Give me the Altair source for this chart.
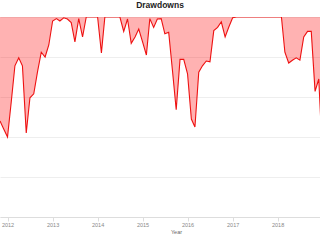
import altair as alt
import pandas as pd

# Monthly drawdown (%), first month = Nov 2011
first_month = "2011-11-01"
drawdown_pct = [
    -13.0, -14.0,                                              # 2011 Nov-Dec
    -15.0, -10.5, -6.1, -5.1, -6.1, -14.5, -10.1, -9.6, -6.8, -4.4, -5.0, -3.5,   # 2012
    -0.5, -0.2, -0.5, -0.1, -0.25, -0.7, -3.1, -0.2, -2.5, 0.0, 0.0, 0.0,         # 2013
    0.0, -4.5, 0.0, 0.0, 0.0, 0.0, 0.0, -1.8, -0.25, -3.3, -2.5, -1.5,            # 2014
    -3.1, -4.75, -0.2, -1.3, -0.25, -0.2, -2.1, -1.9, -6.75, -11.6, -5.3, -5.3,   # 2015
    -7.1, -12.75, -13.75, -6.9, -6.1, -5.5, -5.6, -1.7, -1.3, -0.6, -2.5, -1.25,  # 2016
    -0.1, 0.0, 0.0, 0.0, 0.0, 0.0, 0.0, 0.0, 0.0, 0.0, 0.0, 0.0,                  # 2017
    0.0, 0.0, -4.4, -5.75, -5.4, -5.1, -5.4, -2.5, -1.8, -1.8, -9.3, -7.75,       # 2018
    -17.75, -13.4,                                             # 2019
]
grid_values = [-25, -20, -15, -10, -5, 0]

dates = pd.date_range(first_month, periods=len(drawdown_pct), freq="MS")
df = pd.DataFrame({"date": dates.strftime("%Y-%m-%dT00:00:00"), "dd": drawdown_pct})

x_enc = alt.X(
    "date:T",
    title="Year",
    scale=alt.Scale(domain=[alt.DateTime(year=2011, month=11, date=1),
                            alt.DateTime(year=2018, month=12, date=11)], nice=False),
    axis=alt.Axis(format="%Y", tickCount="year", grid=False,
                  domainColor="#dddddd", tickColor="#dddddd", tickSize=4,
                  labelFontSize=5.5, labelColor="#888888", labelPadding=1,
                  titleFontSize=5.5, titleFontWeight="normal", titleColor="#666666",
                  titlePadding=2, titleX=176),
)
y_enc = alt.Y(
    "dd:Q",
    scale=alt.Scale(domain=[-25, 0], nice=False),
    axis=alt.Axis(labels=False, ticks=False, domain=False, title=None, grid=True,
                  gridColor="#eeeeee", values=grid_values, minExtent=0),
)

base = alt.Chart(df).encode(x=x_enc, y=y_enc)
area = base.mark_area(color="#ff0000", opacity=0.3, clip=True)
line = base.mark_line(color="#ee1111", strokeWidth=1.1, clip=True)

chart = (
    alt.layer(area, line)
    .properties(
        width=320, height=200,
        padding={"left": 0, "top": 0, "right": 0, "bottom": 0},
        title=alt.TitleParams("Drawdowns", fontSize=8.5, fontWeight="bold",
                              color="#222222", offset=9.5, dy=1.5),
    )
    .configure_view(stroke=None)
)

chart.save("out.html", embed_options={"renderer": "svg", "actions": False})
